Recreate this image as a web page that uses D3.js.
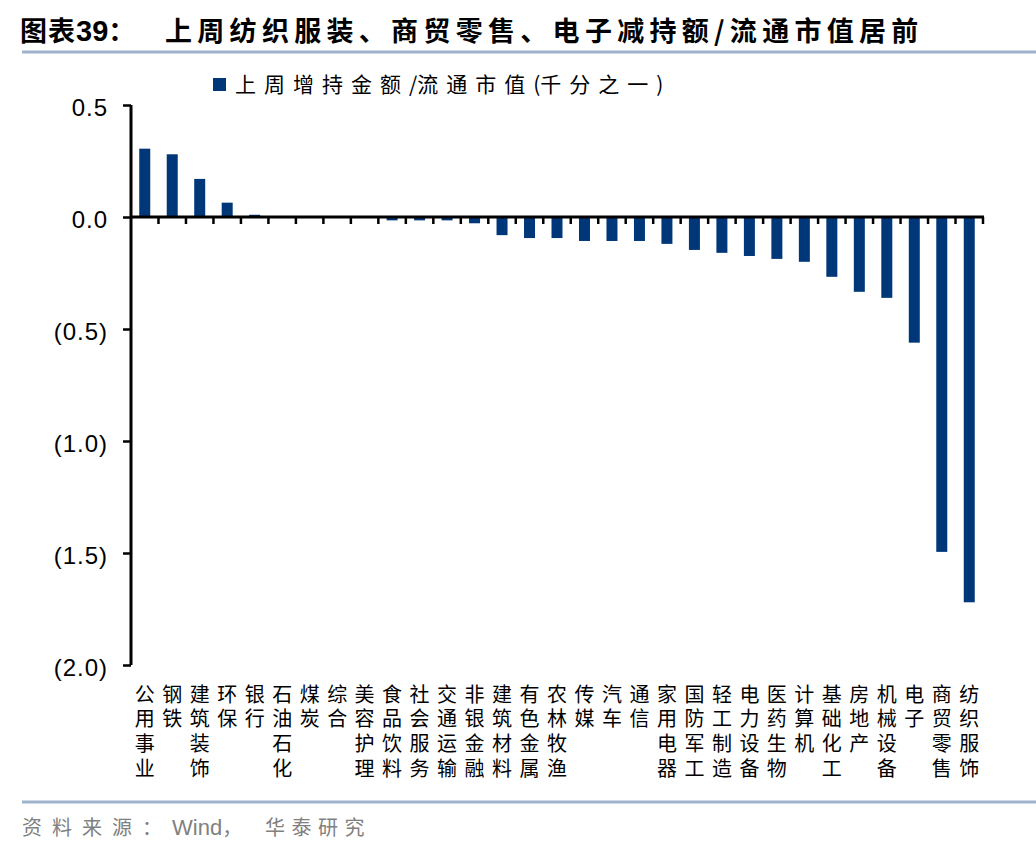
<!DOCTYPE html>
<html>
<head>
<meta charset="utf-8">
<script src="https://cdn.jsdelivr.net/npm/d3@7"></script>
<style>
    body { margin: 0; background: #fff; }
    svg { display: block; }
    .vlabel { writing-mode: vertical-rl; text-orientation: upright; }
</style>
</head>
<body>
<svg id="chart" width="1036" height="852"></svg>
<script>
// 行业名称（竖排）
const categories = [
    '公用事业', '钢铁', '建筑装饰', '环保', '银行', '石油石化', '煤炭', '综合',
    '美容护理', '食品饮料', '社会服务', '交通运输', '非银金融', '建筑材料', '有色金属',
    '农林牧渔', '传媒', '汽车', '通信', '家用电器', '国防军工', '轻工制造', '电力设备',
    '医药生物', '计算机', '基础化工', '房地产', '机械设备', '电子', '商贸零售', '纺织服饰'
];

// 上周增持金额/流通市值(千分之一)
const values = [
    0.305, 0.28, 0.17, 0.064, 0.01, 0, 0, 0,
    0, -0.015, -0.015, -0.015, -0.028, -0.081, -0.094,
    -0.094, -0.107, -0.107, -0.107, -0.12, -0.147, -0.16, -0.174,
    -0.187, -0.2, -0.267, -0.334, -0.361, -0.561, -1.495, -1.72
];

const yTicks = [0.5, 0, -0.5, -1.0, -1.5, -2.0];

// 图例文字拆成中文段与符号段，便于分别控制字距
const legendParts = ['上周增持金额', '/', '流通市值', '(', '千分之一', ')'];
const title = '上周纺织服装、商贸零售、电子减持额/流通市值居前';

const BAR_COLOR = '#003778';
const RULE_COLOR = '#9fb3cc';
const CJK = '"Noto Sans CJK SC", "Noto Sans", sans-serif';
const LATIN = '"Liberation Sans", Arial, sans-serif';

const svg = d3.select('#chart');
const data = categories.map((name, i) => ({name, value: values[i]}));

const x = d3.scaleBand()
    .domain(categories)
    .range([131, 983])
    .paddingInner(0.6)
    .paddingOuter(0.3);

const y = d3.scaleLinear()
    .domain([-2, 0.5])
    .range([665, 105]);

// 标题
const titleText = svg.append('text')
    .attr('y', 41)
    .attr('font-weight', 'bold')
    .attr('font-family', CJK);
titleText.append('tspan').attr('x', 20).attr('font-size', 27).attr('letter-spacing', 1).text('图表');
titleText.append('tspan').attr('font-size', 29).attr('font-family', LATIN).text('39');
titleText.append('tspan').attr('font-size', 27).text('：');
titleText.append('tspan')
    .attr('x', 165)
    .attr('font-size', 27)
    .attr('letter-spacing', 5.3)
    .text(title);

svg.append('line')
    .attr('x1', 22).attr('x2', 1036)
    .attr('y1', 52).attr('y2', 52)
    .attr('stroke', RULE_COLOR)
    .attr('stroke-width', 3);

// 图例
svg.append('rect')
    .attr('x', 213).attr('y', 78)
    .attr('width', 13).attr('height', 13)
    .attr('fill', BAR_COLOR);

const legendText = svg.append('text')
    .attr('x', 235).attr('y', 92)
    .attr('font-size', 21)
    .attr('font-family', CJK);

legendText.selectAll('tspan')
    .data(legendParts)
    .join('tspan')
    .attr('letter-spacing', (d, i) => i % 2 === 0 ? 8 : 0)
    .text(d => d);

// 柱子
svg.append('g')
    .selectAll('rect')
    .data(data)
    .join('rect')
    .attr('x', d => x(d.name))
    .attr('width', x.bandwidth())
    .attr('y', d => y(Math.max(0, d.value)))
    .attr('height', d => Math.abs(y(d.value) - y(0)))
    .attr('fill', BAR_COLOR);

// Y 轴
const yAxis = d3.axisLeft(y)
    .tickValues(yTicks)
    .tickSize(8)
    .tickPadding(15)
    .tickFormat(v => {
        const s = d3.format('.1f')(Math.abs(v));
        return v < 0 ? `(${s})` : s;
    });

const yAxisG = svg.append('g')
    .attr('transform', 'translate(131,0)')
    .call(yAxis);

yAxisG.select('.domain')
    .attr('d', `M0,${y(0.5)}V${y(-2)}`)
    .attr('stroke', '#000')
    .attr('stroke-width', 3);
yAxisG.selectAll('.tick line')
    .attr('stroke', '#000')
    .attr('stroke-width', 2.5);
yAxisG.selectAll('.tick text')
    .attr('font-size', 24)
    .attr('letter-spacing', 1)
    .attr('font-family', LATIN)
    .attr('dy', '0.45em')
    .attr('fill', '#000');

// X 轴（零线与分类刻度）
const step = x.step();
const [x0, x1] = x.range();
const boundaries = d3.range(1, categories.length + 1).map(i => x0 + i * step);

svg.append('line')
    .attr('x1', x0).attr('x2', x1 + 1)
    .attr('y1', y(0)).attr('y2', y(0))
    .attr('stroke', '#000')
    .attr('stroke-width', 3);

svg.append('g')
    .selectAll('line')
    .data(boundaries)
    .join('line')
    .attr('x1', d => d).attr('x2', d => d)
    .attr('y1', y(0)).attr('y2', y(0) + 7)
    .attr('stroke', '#000')
    .attr('stroke-width', 2.5);

// 分类标签（竖排）
svg.append('g')
    .selectAll('text')
    .data(categories)
    .join('text')
    .attr('class', 'vlabel')
    .attr('x', d => x(d) + x.bandwidth() / 2)
    .attr('y', 684)
    .attr('font-size', 20)
    .attr('letter-spacing', 4.7)
    .attr('font-family', CJK)
    .attr('fill', '#000')
    .text(d => d);

// 底部分隔线与来源
svg.append('line')
    .attr('x1', 22).attr('x2', 1036)
    .attr('y1', 802).attr('y2', 802)
    .attr('stroke', RULE_COLOR)
    .attr('stroke-width', 3);

const sourceText = svg.append('text')
    .attr('y', 835)
    .attr('font-size', 20)
    .attr('font-family', CJK)
    .attr('fill', '#808080');
sourceText.append('tspan').attr('x', 22).attr('letter-spacing', 10).text('资料来源：');
sourceText.append('tspan').attr('x', 172).attr('font-size', 22).attr('font-family', LATIN).text('Wind');
sourceText.append('tspan').text('，');
sourceText.append('tspan').attr('x', 265).attr('letter-spacing', 6.5).text('华泰研究');
</script>
</body>
</html>
